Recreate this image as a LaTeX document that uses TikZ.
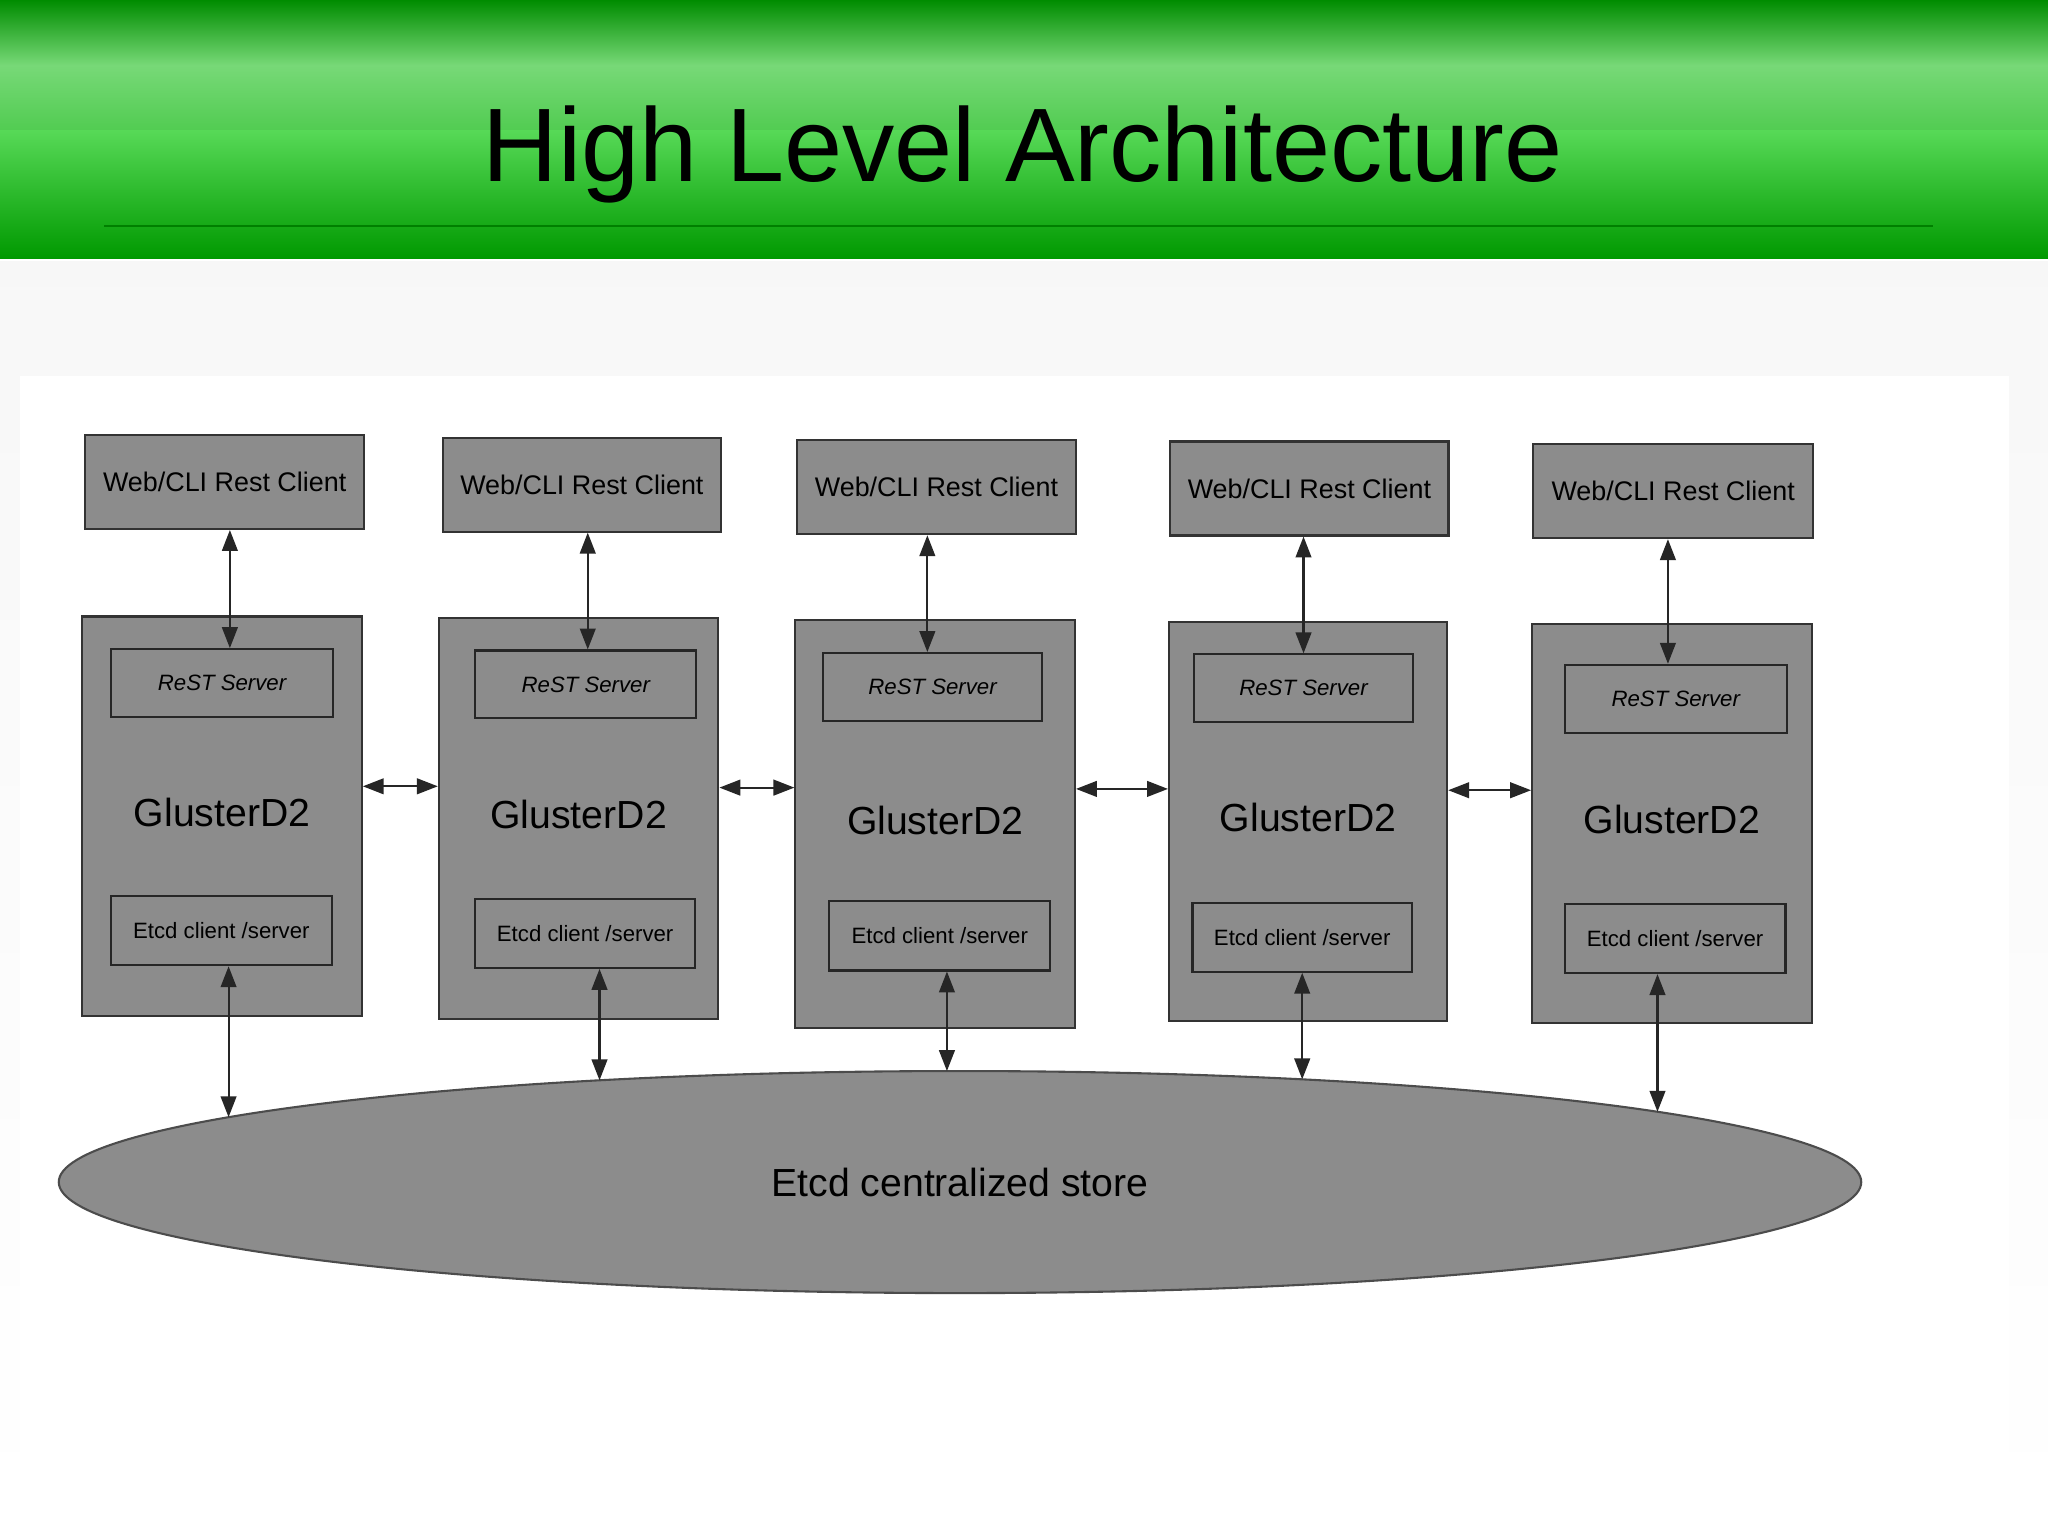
\documentclass[tikz,border=0pt]{standalone}
\usepackage{fontspec}
\setmainfont{Liberation Sans}
\usetikzlibrary{arrows.meta,shapes.geometric}
\begin{document}
\begin{tikzpicture}[x=0.5pt,y=-0.5pt,
 box/.style={draw=black!80,fill=black!45,line width=0.8pt,inner sep=0},
 inbox/.style={draw=black!85,fill=black!45,line width=0.8pt,inner sep=0,font=\fontsize{8.5}{10}\selectfont},
 arr/.style={{Triangle[length=8pt,width=6pt]}-{Triangle[length=8pt,width=6pt]},line width=0.8pt,black!85}]
\useasboundingbox (0,0) rectangle (1568,1175);
\shade[top color=black!3,bottom color=white] (0,200) rectangle (1568,1175);
\fill[white] (15,288) rectangle (1538,1175);
\shade[top color=green!55!black,bottom color=green!60!white!80!black,middle color=green!45!white!85!black] (0,0) rectangle (1568,100);
\shade[top color=green!60!white!85!black,bottom color=green!60!black] (0,100) rectangle (1568,198);
\draw[green!50!black,line width=1pt] (80,173) -- (1480,173);
\node[font=\fontsize{40}{48}\selectfont] (title) at (783,118) {High Level Architecture};
\node[draw=black!70,fill=black!45,ellipse,minimum width=690pt,minimum height=85pt,line width=0.8pt,font=\fontsize{15}{18}\selectfont] (store) at (735,905) {Etcd centralized store};
\foreach \i/\wa/\wb/\wy/\ga/\gb/\gt/\gbt/\ra/\rb/\ry/\ea/\eb/\ey/\ux/\dx in {
 1/65/279/333/63/277/472/778/85/255/497/85/254/686/176/175,
 2/339/552/335/336/550/473/780/364/533/498/364/532/688/450/459,
 3/610/824/337/609/823/475/787/630/798/500/635/804/690/710/725,
 4/896/1109/338/895/1108/476/782/914/1082/501/913/1081/691/998/997,
 5/1174/1388/340/1173/1387/478/783/1198/1368/509/1198/1367/692/1277/1269}{
 \node[box,minimum width=(\wb-\wa)*0.5pt,minimum height=36pt,font=\fontsize{10.3}{12}\selectfont] (w\i) at ({(\wa+\wb)/2},\wy+36) {Web/CLI Rest Client};
 \node[box,minimum width=(\gb-\ga)*0.5pt,minimum height=(\gbt-\gt)*0.5pt] (g\i) at ({(\ga+\gb)/2},{(\gt+\gbt)/2}) {};
 \node[font=\fontsize{15}{18}\selectfont] (l\i) at ({(\ga+\gb)/2},{(\gt+\gbt)/2-3}) {GlusterD2};
 \node[inbox,minimum width=(\rb-\ra)*0.5pt,minimum height=26pt,font=\fontsize{8.5}{10}\selectfont\itshape] (r\i) at ({(\ra+\rb)/2},\ry+26) {ReST Server};
 \node[inbox,minimum width=(\eb-\ea)*0.5pt,minimum height=26.5pt] (e\i) at ({(\ea+\eb)/2},\ey+26.5) {Etcd client /server};
 \draw[arr] (w\i.south -| \ux,0) -- (r\i.north -| \ux,0);
 \coordinate (s\i) at (\dx,{905-85*sqrt(1-((\dx-735)/690)^2)});
 \draw[arr] (e\i.south -| \dx,0) -- (s\i);
}
\draw[arr] (g1.east |- 0,602) -- (g2.west |- 0,602);
\draw[arr] (g2.east |- 0,603) -- (g3.west |- 0,603);
\draw[arr] (g3.east |- 0,604) -- (g4.west |- 0,604);
\draw[arr] (g4.east |- 0,605) -- (g5.west |- 0,605);
\end{tikzpicture}
\end{document}
